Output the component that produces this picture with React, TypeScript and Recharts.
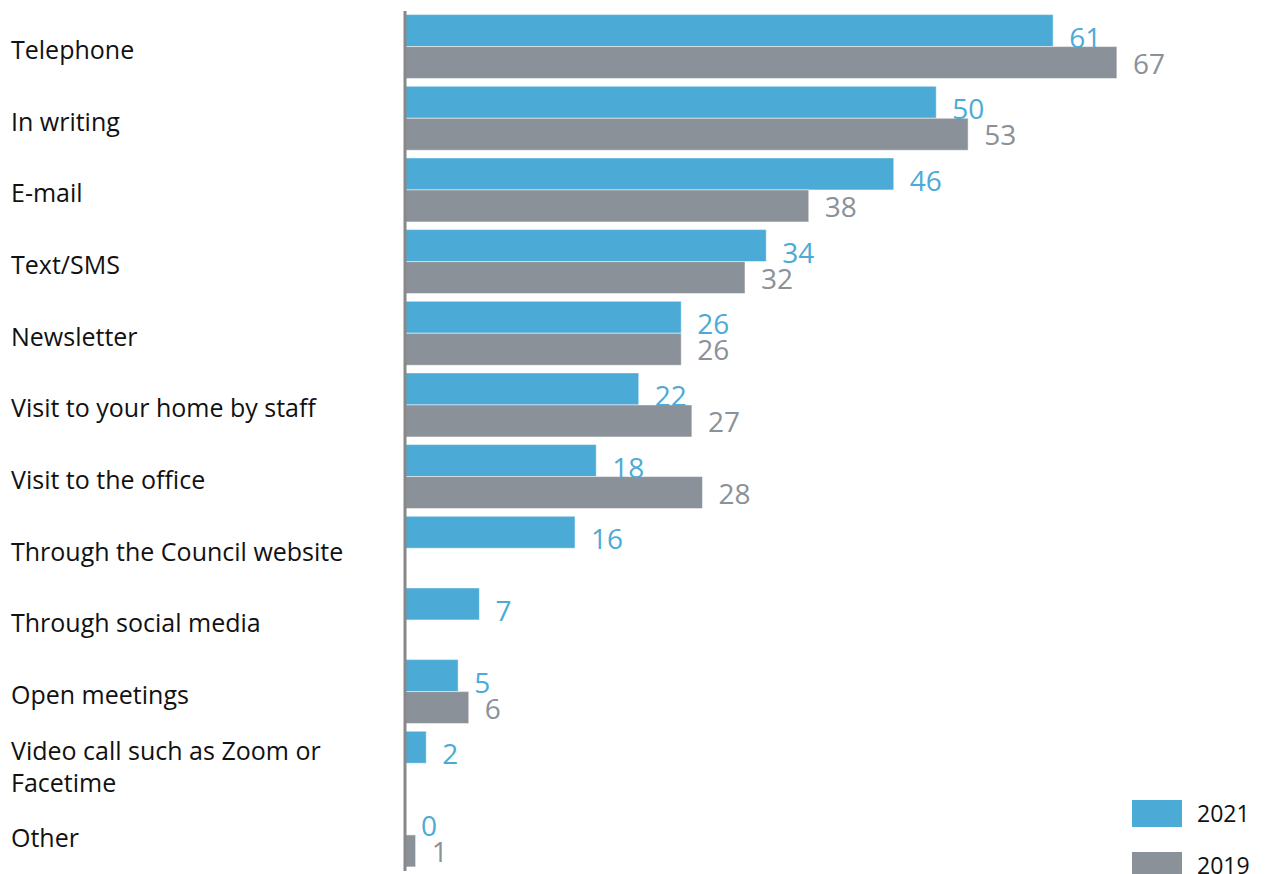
import { BarChart, Bar, XAxis, YAxis, LabelList } from "recharts";

const categories = [
  "Telephone",
  "In writing",
  "E-mail",
  "Text/SMS",
  "Newsletter",
  "Visit to your home by staff",
  "Visit to the office",
  "Through the Council website",
  "Through social media",
  "Open meetings",
  "Video call such as Zoom or Facetime",
  "Other",
];
const values2021 = [61, 50, 46, 34, 26, 22, 18, 16, 7, 5, 2, 0];
const values2019: (number | null)[] = [67, 53, 38, 32, 26, 27, 28, null, null, 6, null, 1];

const BLUE = "#4BABD6";
const GREY = "#8A9198";

const data = categories.map((name, i) => ({ name, y2021: values2021[i], y2019: values2019[i] }));

// wrap long category names the way the original does
function wrap(text: string) {
  if (text.length < 28) return [text];
  const cut = text.lastIndexOf(" ", 27);
  return [text.slice(0, cut), text.slice(cut + 1)];
}

function CatTick(props: any) {
  const { y, payload } = props;
  const lines = wrap(payload.value);
  const start = y + 2 - ((lines.length - 1) * 32) / 2;
  return (
    <text x={11} y={start} textAnchor="start" dominantBaseline="central" fill="#111" fontSize={25} fontFamily="Open Sans">
      {lines.map((l, i) => (
        <tspan key={i} x={11} y={start + i * 32} dominantBaseline="central">
          {l}
        </tspan>
      ))}
    </text>
  );
}

const valueLabel = (color: string, dy: number, dx: number) => (props: any) => {
  const { x, y, width, height, value } = props;
  if (value == null) return null;
  return (
    <text x={x + (width || 0) + dx} y={y + height / 2 + dy} fill={color} fontSize={28} fontFamily="Open Sans">
      {value}
    </text>
  );
};

function LegendBox() {
  const items = [
    { label: "2021", color: BLUE },
    { label: "2019", color: GREY },
  ];
  return (
    <div style={{ position: "absolute", left: 1132, top: 787, fontFamily: "Open Sans", fontSize: 23, color: "#111" }}>
      {items.map((it) => (
        <div key={it.label} style={{ display: "flex", alignItems: "center", height: 52 }}>
          <div style={{ width: 50, height: 27, background: it.color, marginRight: 15 }} />
          <span>{it.label}</span>
        </div>
      ))}
    </div>
  );
}

export default function App() {
  return (
    <div style={{ position: "absolute", left: 0, top: 0, width: 1266, height: 874, background: "#fff", overflow: "hidden" }}>
      <BarChart
        width={1266}
        height={874}
        data={data}
        layout="vertical"
        margin={{ top: 11, right: 11, bottom: 3, left: 0 }}
        barCategoryGap="5%"
        barGap={0}
      >
        <XAxis type="number" domain={[0, 80]} hide />
        <YAxis
          type="category"
          dataKey="name"
          width={405}
          axisLine={{ stroke: "#888", strokeWidth: 3 }}
          tickLine={false}
          tick={<CatTick />}
          interval={0}
        />
        <Bar dataKey="y2021" name="2021" fill={BLUE} stroke="#fff" strokeWidth={0.5} minPointSize={0.01} isAnimationActive={false}>
          <LabelList dataKey="y2021" content={valueLabel(BLUE, 17, 16)} />
        </Bar>
        <Bar dataKey="y2019" name="2019" fill={GREY} stroke="#fff" strokeWidth={0.5} isAnimationActive={false}>
          <LabelList dataKey="y2019" content={valueLabel(GREY, 11, 16)} />
        </Bar>
      </BarChart>
      <LegendBox />
    </div>
  );
}
